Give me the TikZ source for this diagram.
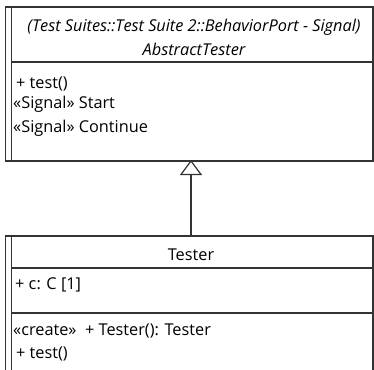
\documentclass[tikz,border=0pt]{standalone}
\usepackage{fontspec}
\setmainfont{Open Sans}
\usetikzlibrary{arrows.meta}
\definecolor{umlline}{HTML}{333333}
\tikzset{
  umltext/.style={inner sep=0pt,anchor=base west,font=\fontsize{16.3}{19}\selectfont},
  umltitle/.style={inner sep=0pt,anchor=base,font=\fontsize{16.3}{19}\selectfont},
  umlbox/.style={draw=umlline,line width=1.6pt},
}
\begin{document}
\begin{tikzpicture}[x=1pt,y=-1pt,line cap=butt,line join=miter]
  \useasboundingbox (0,0) rectangle (374,369);
  \clip (0,0) rectangle (374,369);
  % AbstractTester
  \coordinate (Atl) at (5.5,7);
  \coordinate (Abr) at (373,161);
  \coordinate (Abot) at (191,161);
  \draw[umlbox] (Atl) rectangle (Abr);
  \draw[umlbox] (11.5,7) -- (11.5,161);
  \draw[umlbox] (11.5,62) -- (373,62);
  \draw[umlbox,line width=2.4pt] (5.5,161) -- (373,161);
  \node[umltitle,font=\fontsize{16.3}{19}\selectfont\itshape] (Apkg) at (194,31) {(Test Suites::Test Suite 2::BehaviorPort - Signal)};
  \node[umltitle,font=\fontsize{16.3}{19}\selectfont\itshape] (Aname) at (194,56) {AbstractTester};
  \node[umltext] (Aop) at (16,88) {+ test()};
  \node[umltext] (Asig1) at (13,108) {«Signal» Start};
  \node[umltext] (Asig2) at (13,132) {«Signal» Continue};
  % Tester
  \coordinate (Ttl) at (5.5,236);
  \coordinate (Tbr) at (373,380);
  \coordinate (Ttop) at (191,236);
  \draw[umlbox] (Ttl) rectangle (Tbr);
  \draw[umlbox] (11.5,236) -- (11.5,380);
  \draw[umlbox] (11.5,268) -- (373,268);
  \draw[umlbox] (11.5,313) -- (373,313);
  \node[umltitle] (Tname) at (191,260) {Tester};
  \node[umltext] (Tattr) at (15,289) {+ c: C [1]};
  \node[umltext] (Tcre) at (13,335) {«create»\ \ + Tester(): Tester};
  \node[umltext] (Top) at (16,358) {+ test()};
  % generalisation
  \draw[draw=umlline,line width=1.6pt,-{Triangle[open,width=22pt,length=15pt,line width=1.2pt]}] (Ttop) -- ([yshift=1pt]Abot);
\end{tikzpicture}
\end{document}
